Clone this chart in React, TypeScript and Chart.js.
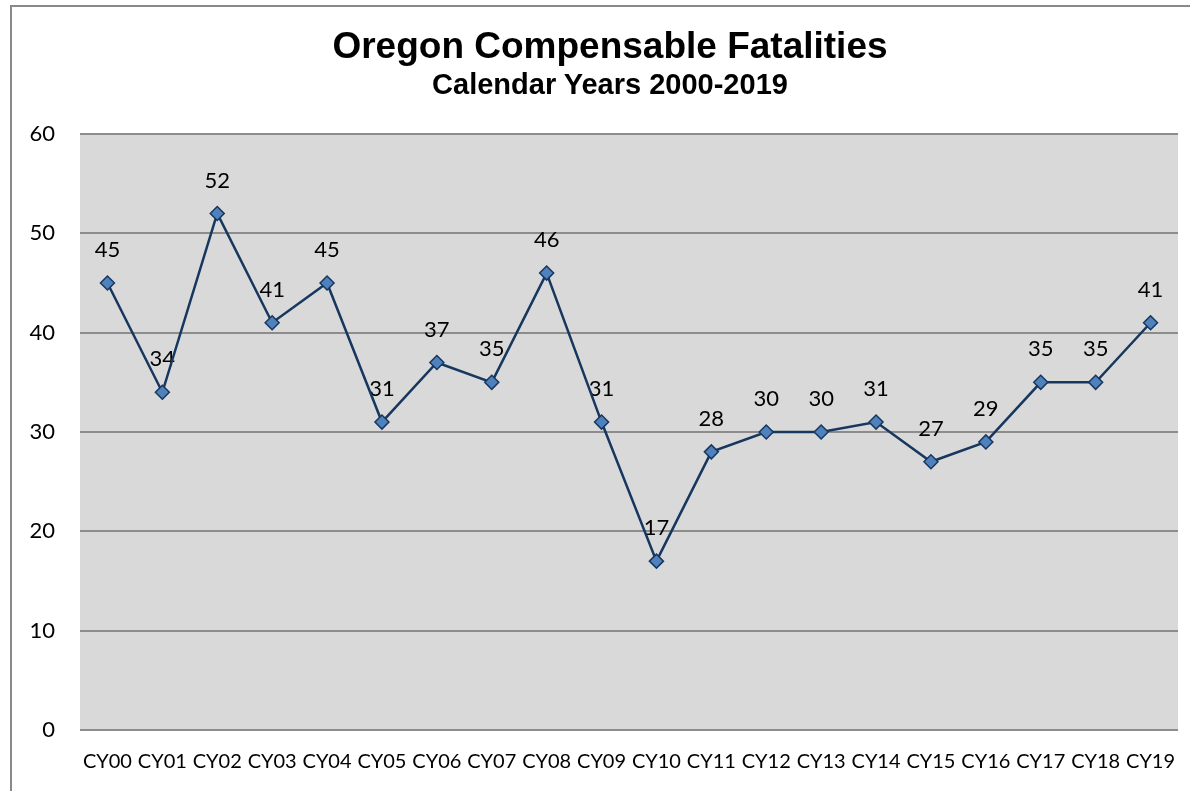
import React, { useEffect, useRef } from "react";
import { Chart, registerables } from "chart.js";

Chart.register(...registerables);

const categories = ["CY00","CY01","CY02","CY03","CY04","CY05","CY06","CY07","CY08","CY09","CY10","CY11","CY12","CY13","CY14","CY15","CY16","CY17","CY18","CY19"];
const fatalities = [45,34,52,41,45,31,37,35,46,31,17,28,30,30,31,27,29,35,35,41];
const yTicks = [0,10,20,30,40,50,60];
const titleText = "Oregon Compensable Fatalities";
const subtitleText = "Calendar Years 2000-2019";

const plotBg = {
  id: "plotBg",
  beforeDraw(chart: any) {
    const { ctx, chartArea } = chart;
    ctx.save();
    ctx.fillStyle = "#D9D9D9";
    ctx.fillRect(chartArea.left, chartArea.top, chartArea.right - chartArea.left, chartArea.bottom - chartArea.top);
    ctx.restore();
  },
};

const dataLabels = {
  id: "dataLabels",
  beforeDatasetsDraw(chart: any) {
    const { ctx } = chart;
    const meta = chart.getDatasetMeta(0);
    const ds = chart.data.datasets[0];
    ctx.save();
    ctx.font = "22px Lato, 'Open Sans', sans-serif";
    ctx.fillStyle = "#000";
    ctx.textAlign = "center";
    ctx.textBaseline = "middle";
    meta.data.forEach((pt: any, i: number) => {
      ctx.fillText(String(ds.data[i]), pt.x, pt.y - 33);
    });
    ctx.restore();
  },
};

export default function App() {
  const ref = useRef<HTMLCanvasElement>(null);
  useEffect(() => {
    if (!ref.current) return;
    const chart = new Chart(ref.current, {
      type: "line",
      data: {
        labels: categories,
        datasets: [
          {
            data: fatalities,
            borderColor: "#17375E",
            borderWidth: 2.5,
            pointStyle: "rectRot",
            pointRadius: 7,
            pointHoverRadius: 7,
            pointBackgroundColor: "#4F81BD",
            pointBorderColor: "#17375E",
            pointBorderWidth: 1.5,
            tension: 0,
            fill: false,
          },
        ],
      },
      options: {
        responsive: false,
        animation: false,
        events: [],
        layout: { padding: { left: 0, right: 12, top: 134, bottom: 0 } },
        plugins: {
          legend: { display: false },
          tooltip: { enabled: false },
          title: { display: false },
          subtitle: { display: false },
        },
        scales: {
          x: {
            offset: true,
            grid: { display: false, drawTicks: false },
            border: { display: false },
            ticks: {
              color: "#000",
              padding: 20,
              maxRotation: 0,
              autoSkip: false,
              font: { family: "Lato, 'Open Sans', sans-serif", size: 20 },
            },
            afterFit(scale: any) {
              scale.height = 61;
              scale.paddingLeft = 0;
              scale.paddingRight = 0;
            },
          },
          y: {
            min: 0,
            max: 60,
            afterBuildTicks(scale: any) {
              scale.ticks = yTicks.map((v) => ({ value: v }));
            },
            grid: { color: "#8C8C8C", lineWidth: 2, drawTicks: false },
            border: { display: false },
            ticks: {
              color: "#000",
              padding: 25,
              font: { family: "Lato, 'Open Sans', sans-serif", size: 22 },
            },
            afterFit(scale: any) {
              scale.width = 80;
              scale.paddingTop = 0;
              scale.paddingBottom = 0;
            },
          },
        },
      },
      plugins: [plotBg, dataLabels],
    });
    return () => chart.destroy();
  }, []);

  const titleFont = "'Liberation Sans', Arial, sans-serif";

  return (
    <div style={{ position: "fixed", left: 0, top: 0, width: 1190, height: 791, overflow: "hidden", background: "#fff" }}>
      <div
        style={{
          position: "absolute",
          left: 10,
          top: 5,
          width: 1300,
          height: 900,
          borderLeft: "2px solid #898989",
          borderTop: "2px solid #898989",
        }}
      />
      <canvas ref={ref} width={1190} height={791} style={{ position: "absolute", left: 0, top: 0, display: "block" }} />
      <div
        style={{
          position: "absolute",
          left: 0,
          top: 27,
          width: 1220,
          textAlign: "center",
          fontFamily: titleFont,
          fontWeight: "bold",
          fontSize: 37,
          lineHeight: "37px",
          color: "#000",
          whiteSpace: "nowrap",
        }}
      >
        {titleText}
      </div>
      <div
        style={{
          position: "absolute",
          left: 0,
          top: 70,
          width: 1220,
          textAlign: "center",
          fontFamily: titleFont,
          fontWeight: "bold",
          fontSize: 29,
          lineHeight: "29px",
          color: "#000",
          whiteSpace: "nowrap",
        }}
      >
        {subtitleText}
      </div>
    </div>
  );
}
